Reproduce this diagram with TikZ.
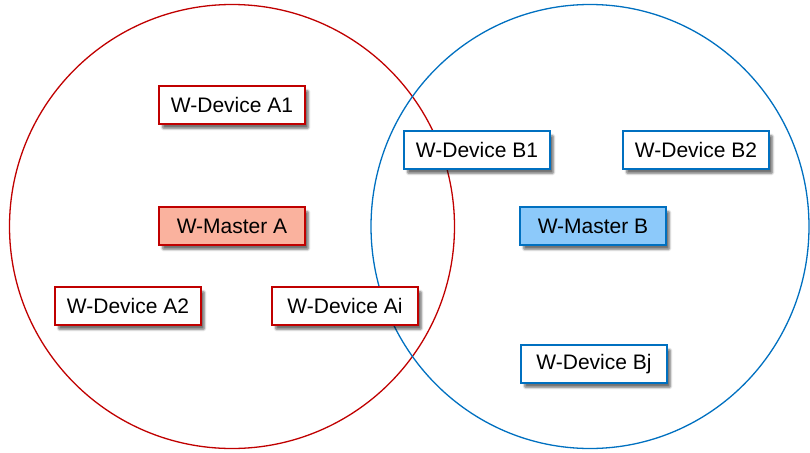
\documentclass[tikz,border=0pt]{standalone}
\usepackage{fontspec}
\setmainfont{Liberation Sans}
\usetikzlibrary{shadows.blur}
\definecolor{netred}{RGB}{192,0,0}
\definecolor{netblue}{RGB}{0,112,192}
\definecolor{masterAfill}{RGB}{250,178,158}
\definecolor{masterBfill}{RGB}{140,201,250}
\begin{document}
\begin{tikzpicture}[x=1pt,y=-1pt,
  unit/.style={draw, line width=2pt, minimum width=146pt, minimum height=38pt,
    inner sep=0pt, font=\fontsize{21}{25}\selectfont,
    blur shadow={shadow xshift=3.5pt, shadow yshift=-4.5pt, shadow blur steps=6,
      shadow blur extra rounding=1pt, shadow opacity=55}},
  devA/.style={unit, draw=netred, fill=white},
  devB/.style={unit, draw=netblue, fill=white},
  network/.style={line width=1.3pt}]
  \useasboundingbox (0,0) rectangle (810,452);
  % the two wireless networks
  \draw[network, netred] (232,226.5) ellipse [x radius=222.5, y radius=222];
  \draw[network, netblue] (590,226.5) ellipse [x radius=219, y radius=222];
  % network A
  \node[devA] (a1) at (232,105) {W-Device A1};
  \node[devA, fill=masterAfill] (ma) at (232,226) {W-Master A};
  \node[devA] (a2) at (128,306) {W-Device A2};
  \node[devA] (ai) at (345,306) {W-Device Ai};
  % network B
  \node[devB] (b1) at (477,150) {W-Device B1};
  \node[devB] (b2) at (696,150) {W-Device B2};
  \node[devB, fill=masterBfill] (mb) at (593,226) {W-Master B};
  \node[devB] (bj) at (594,364) {W-Device Bj};
\end{tikzpicture}
\end{document}
